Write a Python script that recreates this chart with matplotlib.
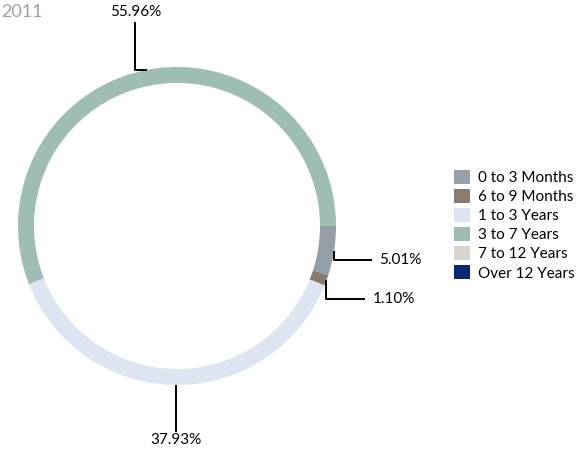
import numpy as np
import matplotlib.pyplot as plt
from matplotlib.patches import Patch

plt.rcParams['font.family'] = ['Lato', 'DejaVu Sans']

# 数据
categories = ['0 to 3 Months', '6 to 9 Months', '1 to 3 Years', '3 to 7 Years', '7 to 12 Years', 'Over 12 Years']
values = [5.01, 1.10, 37.93, 55.96, 0.0, 0.0]
colors = ['#959fa8', '#887b72', '#dce5f1', '#9fbdb1', '#d8d4d1', '#0b2a6e']

H = 453
fig = plt.figure(figsize=(5.85, 4.53), dpi=100)
ax = fig.add_axes([0, 0, 1, 1])

cx, cy, r = 177, H - 226, 159
shown = [(c, v, col) for c, v, col in zip(categories, values, colors) if v > 0]
wedges, _ = ax.pie([s[1] for s in shown], colors=[s[2] for s in shown], startangle=0,
                   counterclock=False, radius=r, center=(cx, cy),
                   wedgeprops=dict(width=16, linewidth=0))
ax.set_xlim(0, 585)
ax.set_ylim(0, H)
ax.set_aspect('equal')
ax.axis('off')

# 引线与百分比
for i, w in enumerate(wedges):
    ang = np.deg2rad((w.theta1 + w.theta2) / 2)
    x0 = cx + r * np.cos(ang)
    y0 = cy + r * np.sin(ang)
    lab = '%.2f%%' % shown[i][1]
    if i == 3:   # 顶部
        xs, ys = [x0, x0 - 12, x0 - 12], [y0, y0, y0 + 48]
        ax.text(xs[-1], ys[-1] + 3, lab, ha='center', va='bottom', fontsize=11)
    elif i == 2:  # 底部
        xs, ys = [x0, x0], [y0, y0 - 47]
        ax.text(xs[-1], ys[-1] - 1, lab, ha='center', va='top', fontsize=11)
    else:
        dy = 9 if i == 0 else 19
        hx = 38 if i == 0 else 39
        xs, ys = [x0, x0, x0 + hx], [y0, y0 - dy, y0 - dy]
        ax.text(xs[-1] + 7, ys[-1], lab, ha='left', va='center', fontsize=11)
    ax.plot(xs, ys, color='black', lw=1.4, solid_capstyle='butt')

handles = [Patch(facecolor=c, edgecolor='none') for c in colors]
ax.legend(handles, categories, loc='upper left', bbox_to_anchor=(446 / 585, 1 - 162 / H),
          frameon=False, fontsize=11, handlelength=1.05, handleheight=1.05,
          handletextpad=0.55, labelspacing=0.25, borderpad=0)

fig.text(1 / 585, 1 - 12 / H, '2011', color='#9aa0a6', fontsize=13, va='center', ha='left')

plt.savefig('out.png', dpi=100)
